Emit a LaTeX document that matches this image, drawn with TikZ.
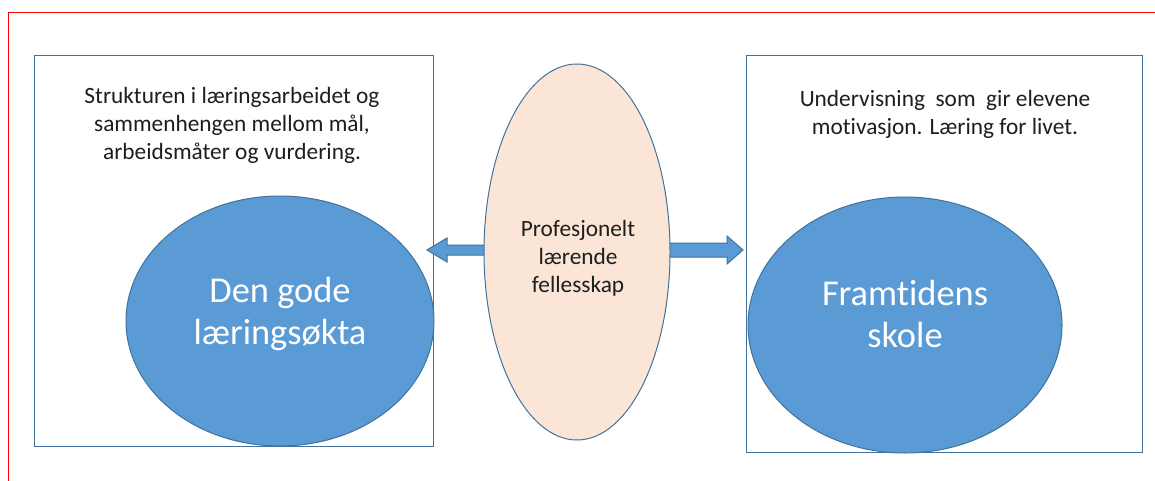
\documentclass[tikz,border=0pt]{standalone}
\usepackage{fontspec}
\setmainfont[Ligatures=NoCommon]{Carlito}
\usepackage{tikz}
\usetikzlibrary{shapes.geometric}

\definecolor{fillblue}{RGB}{91,155,213}
\definecolor{lineblue}{RGB}{65,113,156}
\definecolor{peach}{RGB}{251,229,214}
\definecolor{textgray}{RGB}{30,30,30}

\tikzset{
  frame/.style={draw=lineblue,line width=0.75pt,fill=white,rectangle,inner sep=0pt,anchor=north west},
  bigoval/.style={ellipse,draw=lineblue,line width=0.75pt,fill=fillblue,inner sep=0pt},
  midoval/.style={ellipse,draw=lineblue,line width=0.75pt,fill=peach,inner sep=0pt},
  blockarr/.style={draw=lineblue,line width=0.75pt,fill=fillblue},
  smalltext/.style={text=textgray,align=center,font=\fontsize{17.5pt}{21pt}\selectfont},
  bigtext/.style={text=white,align=center,font=\fontsize{27.3pt}{32pt}\selectfont}
}

\begin{document}
\begin{tikzpicture}[x=0.75pt,y=0.75pt,yscale=-1,xscale=1]
\useasboundingbox (0,0) rectangle (1155,481);

%Red margin lines
\draw [red,line width=0.9pt] (8.5,481) -- (8.5,12.5) -- (1155,12.5) ;

%Boxes
\node [frame,minimum width=299.25pt,minimum height=293.25pt] (leftbox) at (34,55) {};
\node [frame,minimum width=297pt,minimum height=297.75pt] (rightbox) at (746,55) {};

%Big ovals
\node [bigoval,minimum width=231pt,minimum height=187.5pt] (okta) at (280,321) {};
\node [bigoval,minimum width=235.5pt,minimum height=192pt] (skole) at (905,325) {};

%Block arrows
\coordinate (ltip) at (427,250) ;
\draw [blockarr] (ltip) -- (447,238) -- (447,245) -- (500,245) -- (500,255) -- (447,255) -- (447,262) -- cycle ;
\coordinate (rtip) at (743,250) ;
\draw [blockarr] (rtip) -- (727,236) -- (727,243) -- (655,243) -- (655,257) -- (727,257) -- (727,264) -- cycle ;

%Middle oval
\node [midoval,minimum width=139.5pt,minimum height=282pt] (prof) at (577,252) {};

% Text Node
\node [smalltext] (struktur) at (232,125) {Strukturen i læringsarbeidet og\\sammenhengen mellom mål,\\arbeidsmåter og vurdering.};
% Text Node
\node [smalltext] (undervis) at (945,114) {Undervisning\ \ som\ \ gir elevene\\motivasjon. Læring for livet.};
% Text Node
\node [smalltext] (fellesskap) at (578,258) {Profesjonelt\\lærende\\fellesskap};
% Text Node
\node [bigtext] (godeokt) at (280,314) {Den gode\\læringsøkta};
% Text Node
\node [bigtext] (framtid) at (905,314) {Framtidens\\skole};

\end{tikzpicture}
\end{document}
